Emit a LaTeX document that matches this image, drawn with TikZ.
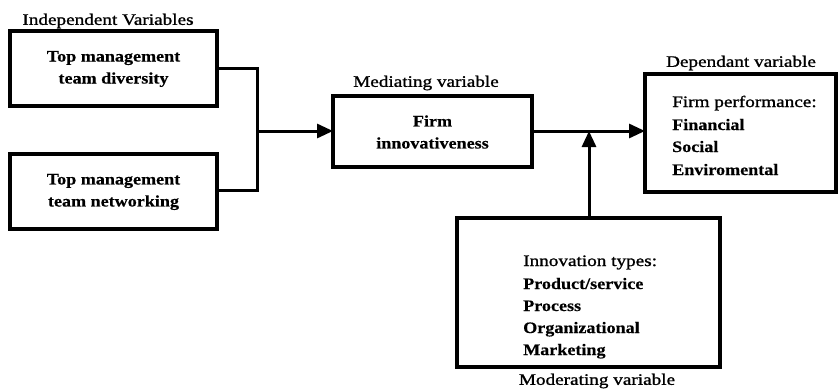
\documentclass[tikz,border=0pt]{standalone}
\usepackage{fontspec}
\setmainfont{Liberation Serif}[FakeStretch=1.18]
\newfontfamily\lblfont{Liberation Serif}[FakeStretch=1.2,FakeBold=1.2]
\newfontfamily\boxfont{Liberation Serif}[FakeStretch=1.13,FakeBold=0.4,BoldFont={Liberation Serif Bold}]
\usetikzlibrary{arrows.meta}
\tikzset{
  boxtxt/.style={align=center, font=\boxfont\fontsize{16pt}{22pt}\selectfont\bfseries},
  lbl/.style={font=\lblfont\fontsize{16pt}{19pt}\selectfont, inner sep=0pt},
  item/.style={anchor=base west, inner sep=0pt, font=\boxfont\fontsize{16pt}{22pt}\selectfont\bfseries},
  head/.style={anchor=base west, inner sep=0pt, font=\lblfont\fontsize{16pt}{22pt}\selectfont},
  frame/.style={line width=3.2pt},
  conn/.style={line width=3pt},
  arr/.style={line width=3pt, -{Triangle[length=16pt,width=14pt]}}
}
\begin{document}
\begin{tikzpicture}[x=1pt,y=-1pt]
\useasboundingbox (0,0) rectangle (838,389);
% boxes
\draw[frame] (10,31) rectangle (217,106);
\node[boxtxt] (t1) at (113.5,69) {Top management\\team diversity};
\coordinate (b1e) at (217,68);
\draw[frame] (10,154) rectangle (217,229);
\node[boxtxt] (t2) at (113.5,192) {Top management\\team networking};
\coordinate (b2e) at (217,190);
\draw[frame] (333,96) rectangle (532,167);
\node[boxtxt] (t3) at (432.5,132) {Firm\\innovativeness};
\coordinate (b3w) at (333,131);
\coordinate (b3e) at (532,131);
\draw[frame] (645,74) rectangle (836,192);
\coordinate (b4w) at (645,131);
\draw[frame] (457,218) rectangle (720,367);
\coordinate (b5n) at (589,218);
% labels
\node[lbl] (l1) at (108,21) {Independent Variables};
\node[lbl] (l2) at (426,83) {Mediating variable};
\node[lbl] (l3) at (741,63) {Dependant variable};
\node[lbl] (l4) at (597,381) {Moderating variable};
% dependant items
\node[head] (h4) at (672,107) {Firm performance:};
\node[item] (i41) at (672,130) {Financial};
\node[item] (i42) at (672,152) {Social};
\node[item] (i43) at (672,175) {Enviromental};
% moderating items
\node[head] (h5) at (523,266) {Innovation types:};
\node[item] (i51) at (523,289) {Product/service};
\node[item] (i52) at (523,311) {Process};
\node[item] (i53) at (523,333) {Organizational};
\node[item] (i54) at (523,355) {Marketing};
% connectors
\coordinate (j) at (257,131);
\draw[conn] (b1e) -| (j) |- (b2e);
\draw[arr] (j) -- (b3w);
\draw[arr] (b3e) -- (b4w);
\coordinate (m) at (589,131);
\draw[arr] (b5n) -- (m);
\end{tikzpicture}
\end{document}
